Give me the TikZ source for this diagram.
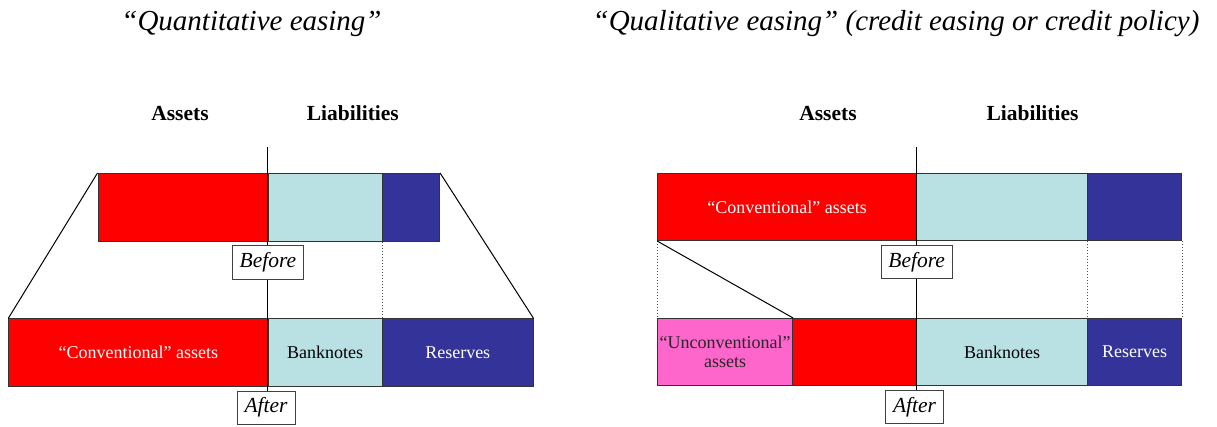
\documentclass[tikz,border=0pt]{standalone}
\usepackage{fontspec}
\setmainfont{Liberation Serif}
\definecolor{qred}{HTML}{FF0000}
\definecolor{qlb}{HTML}{B9E0E3}
\definecolor{qdb}{HTML}{333399}
\definecolor{qpink}{HTML}{FF66CC}
\begin{document}
\begin{tikzpicture}[x=1pt,y=-1pt,
  cell/.style={draw=black!80, line width=0.8pt, inner sep=0pt, anchor=north west,
    text=white, align=center, font=\fontsize{18}{19.5}\selectfont},
  tag/.style={draw=black!75, fill=white, line width=0.8pt, inner xsep=7.5pt, inner ysep=0pt,
    minimum height=33.5pt, font=\fontsize{21.5}{24}\selectfont\itshape},
  head/.style={anchor=base, font=\fontsize{21.5}{24}\selectfont\bfseries},
  ttl/.style={anchor=base, font=\fontsize{29}{34}\selectfont\itshape},
  axis/.style={line width=1.6pt, black},
  link/.style={line width=1pt, black},
  guide/.style={dotted, line width=1pt, black!70}]
\useasboundingbox (0,0) rectangle (1217,427);

% titles
\node[ttl] (t1) at (251.5,30.5) {“Quantitative easing”};
\node[ttl] (t2) at (896,30.5) {“Qualitative easing” (credit easing or credit policy)};

% ---------- left diagram ----------
\node[head] (la) at (180,120.7) {Assets};
\node[head] (ll) at (352.8,120.7) {Liabilities};

\node[cell, fill=qred, minimum width=170pt, minimum height=68pt] (ltr) at (97.5,173) {};
\node[cell, fill=qlb, minimum width=114.5pt, minimum height=68pt] (ltl) at (267.5,173) {};
\node[cell, fill=qdb, minimum width=57.3pt, minimum height=68pt] (ltd) at (382,173) {};

\node[cell, fill=qred, minimum width=259.2pt, minimum height=67.4pt] (lbr) at (8.3,318.3) {“Conventional” assets};
\node[cell, fill=qlb, text=black, minimum width=114.5pt, minimum height=67.4pt] (lbl) at (267.5,318.3) {Banknotes};
\node[cell, fill=qdb, minimum width=150.7pt, minimum height=67.4pt] (lbd) at (382,318.3) {Reserves};

\draw[link] (ltr.north west) -- (lbr.north west);
\draw[link] (ltd.north east) -- (lbd.north east);
\draw[guide] (ltd.south west) -- (lbd.north west);

\coordinate (lvt) at (267.5,147.3);
\coordinate (lvb) at (267.5,392);
\draw[axis] (lvt) -- (lvb);
\node[tag] (lbef) at (268,262.3) {Before};
\node[tag] (laft) at (266,407.7) {After};

% ---------- right diagram ----------
\node[head] (ra) at (828,120.7) {Assets};
\node[head] (rl) at (1032.5,120.7) {Liabilities};

\node[cell, fill=qred, minimum width=259pt, minimum height=67pt] (rtr) at (657.3,173.3) {“Conventional” assets};
\node[cell, fill=qlb, minimum width=171pt, minimum height=67pt] (rtl) at (916.3,173.3) {};
\node[cell, fill=qdb, minimum width=94pt, minimum height=67pt] (rtd) at (1087.3,173.3) {};

\node[cell, fill=qpink, text=black!85, minimum width=135pt, minimum height=67pt] (rbp) at (657.3,318) {“Unconventional”\\assets};
\node[cell, fill=qred, minimum width=124pt, minimum height=67pt] (rbr) at (792.3,318) {};
\node[cell, fill=qlb, text=black, minimum width=171pt, minimum height=67pt] (rbl) at (916.3,318) {Banknotes};
\node[cell, fill=qdb, minimum width=94pt, minimum height=67pt] (rbd) at (1087.3,318) {Reserves};

\draw[guide] (rtr.south west) -- (rbp.north west);
\draw[guide] (rtd.south west) -- (rbd.north west);
\draw[guide] (rtd.south east) -- (rbd.north east);
\draw[link] (rtr.south west) -- (rbp.north east);

\coordinate (rvt) at (916.3,147.3);
\coordinate (rvb) at (916.3,391);
\draw[axis] (rvt) -- (rvb);
\node[tag] (rbef) at (916.7,262) {Before};
\node[tag] (raft) at (914.5,407) {After};
\end{tikzpicture}
\end{document}
